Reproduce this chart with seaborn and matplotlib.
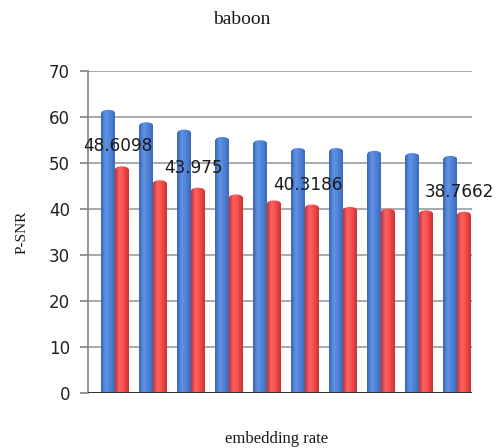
import matplotlib
matplotlib.use("Agg")
import matplotlib.pyplot as plt
from matplotlib.patches import Ellipse
from matplotlib.colors import LinearSegmentedColormap
import seaborn as sns
import pandas as pd
import numpy as np

# P-SNR values for ten embedding rates, two methods
rates = ["1", "2", "3", "4", "5", "6", "7", "8", "9", "10"]
psnr_blue = [60.9, 58.2, 56.6, 55.0, 54.3, 52.6, 52.6, 52.0, 51.5, 50.9]
psnr_red = [48.6098, 45.6, 43.975, 42.5, 41.2, 40.3186, 39.8, 39.4, 39.05, 38.7662]
series = ["A", "B"]
labelled = {0: "48.6098", 2: "43.975", 5: "40.3186", 9: "38.7662"}

df = pd.DataFrame({
    "rate": rates * 2,
    "psnr": psnr_blue + psnr_red,
    "series": [series[0]] * len(rates) + [series[1]] * len(rates),
})

sns.set_theme(style="white")
plt.rcParams["font.family"] = ["DejaVu Sans"]

fig = plt.figure(figsize=(4.98, 4.48), dpi=100)
ax = fig.add_axes([0.1767, 0.1228, 0.771, 0.7188])

sns.barplot(data=df, x="rate", y="psnr", hue="series", order=rates,
            hue_order=series, palette=["#4f82d6", "#f24a4a"], width=0.72,
            saturation=1, ax=ax, legend=False, zorder=3,
            edgecolor="none")

ax.set_ylim(0, 70)
ax.set_xlim(-0.71, 9.39)
ax.set_yticks(range(0, 71, 10))
ax.yaxis.grid(True, color="#a3a3a3", linewidth=1.3, zorder=0)
ax.set_axisbelow(True)
ax.set_xticks([])
ax.set_xlabel("")
ax.set_ylabel("")

# cylinder-style shading: horizontal gradient clipped to each bar, plus a rounded cap
shades = {
    0: ["#3766b4", "#5f93e6", "#4f82d6", "#3a69b8"],
    1: ["#c93030", "#ff6464", "#f24a4a", "#cc3232"],
}
grad = np.linspace(0, 1, 64).reshape(1, -1)
for k, cont in enumerate(ax.containers):
    cmap = LinearSegmentedColormap.from_list(f"cyl{k}", shades[k])
    for bar in cont:
        x0, w, h = bar.get_x(), bar.get_width(), bar.get_height()
        bar.set_facecolor("none")
        cap = Ellipse((x0 + w / 2, h), w, 1.3, transform=ax.transData,
                      facecolor="none", edgecolor="none", zorder=3)
        ax.add_patch(cap)
        for clip in (bar, cap):
            im = ax.imshow(grad, cmap=cmap, aspect="auto", interpolation="bilinear",
                           extent=(x0, x0 + w, 0, h + 0.7), zorder=3)
            im.set_clip_path(clip)

ax.set_xlim(-0.71, 9.39)
ax.set_ylim(0, 70)

for side in ("top", "right", "bottom"):
    ax.spines[side].set_visible(False)
ax.spines["left"].set_color("#8c8c8c")
ax.spines["left"].set_linewidth(1.3)
ax.tick_params(axis="y", which="both", left=True, length=6, width=1.3,
               color="#8c8c8c", labelsize=12, labelcolor="#222222", pad=7)

# floor line at zero
ax.axhline(0, color="#333333", linewidth=2.2, zorder=4)

# value labels above selected red bars
red_container = ax.containers[1]
for i, txt in labelled.items():
    bar = red_container[i]
    ax.annotate(txt, (bar.get_x() + bar.get_width() / 2, psnr_red[i]),
                xytext=(-3, 10), textcoords="offset points", ha="center",
                va="bottom", fontsize=12.2, color="#1a1a1a", zorder=5)

serif = ["Liberation Serif", "DejaVu Serif"]
fig.text(242 / 498, 1 - 20 / 448, "baboon", ha="center", va="center",
         fontsize=14, family=serif, color="#1a1a1a")
fig.text(277 / 498, 1 - 439 / 448, "embedding rate", ha="center",
         va="center", fontsize=12, family=serif, color="#1a1a1a")
fig.text(22 / 498, 1 - 232 / 448, "P-SNR", ha="center", va="center",
         rotation=90, fontsize=11, family=serif, color="#1a1a1a")

fig.savefig("out.png", dpi=100, facecolor="white")
